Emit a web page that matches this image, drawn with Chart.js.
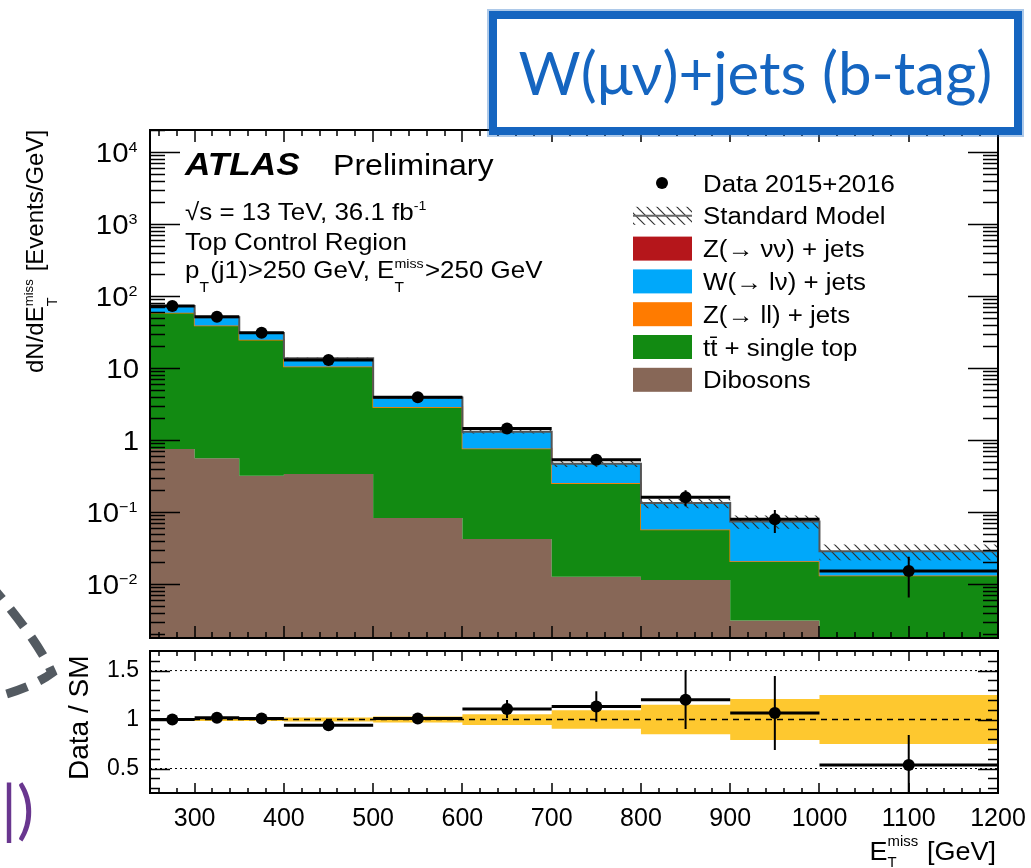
<!DOCTYPE html>
<html>
<head>
<meta charset="utf-8">
<title>W(μν)+jets (b-tag) - Top Control Region</title>
<script src="https://cdn.jsdelivr.net/npm/chart.js@4.4.1/dist/chart.umd.min.js"></script>
<style>
  html, body { margin: 0; padding: 0; background: #fff; }
  body { position: relative; width: 1031px; height: 868px; overflow: hidden; }
  canvas { position: absolute; left: 0; }
  #mainCanvas { top: 0; }
  #ratioCanvas { top: 640px; }
  .tag { position: absolute; left: 489px; top: 11px; width: 517px; height: 108px; border: 8px solid #1565c0;
         background: #fff; color: #1565c0; font-family: Lato, "Open Sans", sans-serif; font-size: 60px;
         line-height: 106px; text-align: center; white-space: nowrap;
         box-shadow: 0 0 0 2px rgba(21, 101, 192, 0.35); }
  .hook { position: absolute; left: 0; top: 540px; }
  .paren { position: absolute; left: 1px; top: 776px; color: #69368f; font-family: Lato, sans-serif;
           font-size: 64px; line-height: 1; }
</style>
</head>
<body>
<canvas id="mainCanvas" width="1031" height="645"></canvas>
<canvas id="ratioCanvas" width="1031" height="228"></canvas>
<div class="tag">W(μν)+jets (b-tag)</div>
<svg class="hook" width="80" height="180" viewBox="0 540 80 180">
  <path d="M -12 582 Q 38 640 52 673 Q 32 688 -8 698" fill="none" stroke="#535a61" stroke-width="9" stroke-dasharray="22 13"/>
</svg>
<div class="paren">|)</div>
<script>
Chart.defaults.font.family = '"Liberation Sans", Arial, Helvetica, sans-serif';
Chart.defaults.color = '#000';

// binning (GeV) and values, per GeV
var binEdges = [250, 300, 350, 400, 500, 600, 700, 800, 900, 1000, 1200];
var dataVals = [72.6, 51.6, 30.9, 12.9, 3.92, 1.44, 0.53, 0.16, 0.079, 0.0152];
var dataErr = [1.2, 1.0, 0.8, 0.36, 0.2, 0.12, 0.073, 0.04, 0.028, 0.0087];
var dibosons = [0.75, 0.556, 0.32, 0.337, 0.0825, 0.042, 0.0126, 0.0114, 0.0031, 0.0015];
var topSingle = [57.25, 38.1, 24.2, 10.06, 2.76, 0.71, 0.237, 0.045, 0.0173, 0.0114];
var zll = [0.6, 0.4, 0.25, 0.1, 0.03, 0.008, 0.003, 0.0008, 0.0003, 0.0002];
var wlnu = [13.9, 11.5, 5.79, 3.18, 1.0, 0.538, 0.214, 0.0755, 0.0532, 0.01525];
var znunu = [0.1, 0.07, 0.04, 0.02, 0.006, 0.002, 0.0008, 0.0003, 0.0001, 0.00005];
var smRelUnc = [0.015, 0.015, 0.015, 0.02, 0.03, 0.055, 0.095, 0.15, 0.21, 0.25];

var xTickVals = [300, 400, 500, 600, 700, 800, 900, 1000, 1100, 1200];
var yTickVals = [0.01, 0.1, 1, 10, 100, 1000, 10000];
var yTickLabels = [['10', '−2'], ['10', '−1'], ['1', ''], ['10', ''], ['10', '2'], ['10', '3'], ['10', '4']];
var ratioTickVals = [0.5, 1, 1.5];
var ratioTickLabels = ['0.5', '1', '1.5'];

var colors = {
  dib: '#876757', top: '#128a12', zll: '#ff7b00', wlnu: '#00a8fa', znunu: '#b5161b', band: '#fec82f'
};

var legendItems = [
  { label: 'Data 2015+2016', kind: 'dot' },
  { label: 'Standard Model', kind: 'hatch' },
  { label: 'Z(→ νν) + jets', color: colors.znunu },
  { label: 'W(→ lν) + jets', color: colors.wlnu },
  { label: 'Z(→ ll) + jets', color: colors.zll },
  { label: 'tt̄ + single top', color: colors.top },
  { label: 'Dibosons', color: colors.dib }
];

// stack sums
var components = [dibosons, topSingle, zll, wlnu, znunu];
var cum = [];
var running = dibosons.map(function () { return 0; });
components.forEach(function (c) {
  running = running.map(function (r, i) { return r + c[i]; });
  cum.push(running.slice());
});
var sm = cum[cum.length - 1];
var centers = dataVals.map(function (v, i) { return (binEdges[i] + binEdges[i + 1]) / 2; });
var ratioVals = dataVals.map(function (v, i) { return v / sm[i]; });
var ratioErr = dataErr.map(function (e, i) { return e / sm[i]; });

function steps(vals) {
  var pts = vals.map(function (v, i) { return { x: binEdges[i], y: v }; });
  pts.push({ x: binEdges[binEdges.length - 1], y: vals[vals.length - 1] });
  return pts;
}

function stepSet(label, vals, fill, bg, order, border, bw) {
  return {
    label: label, data: steps(vals), stepped: 'before', fill: fill, backgroundColor: bg,
    borderColor: border || 'rgba(0,0,0,0)', borderWidth: bw || 0, pointRadius: 0, order: order
  };
}

function xBars(ys) {
  var pts = [];
  ys.forEach(function (y, i) {
    pts.push({ x: binEdges[i], y: y }, { x: binEdges[i + 1], y: y }, { x: binEdges[i + 1], y: null });
  });
  return pts;
}

function yBars(ys, errs) {
  var pts = [];
  ys.forEach(function (y, i) {
    pts.push({ x: centers[i], y: y - errs[i] }, { x: centers[i], y: y + errs[i] }, { x: centers[i], y: null });
  });
  return pts;
}

function hatchPattern(ctx) {
  var c = document.createElement('canvas');
  c.width = 10; c.height = 10;
  var g = c.getContext('2d');
  g.strokeStyle = '#333';
  g.lineWidth = 1.2;
  g.beginPath();
  g.moveTo(0, 0); g.lineTo(10, 10);
  g.moveTo(-5, 5); g.lineTo(5, 15);
  g.moveTo(5, -5); g.lineTo(15, 5);
  g.stroke();
  return ctx.createPattern(c, 'repeat');
}

function drawRich(ctx, x, y, parts, size, o) {
  o = o || {};
  var fam = '"Liberation Sans", Arial, Helvetica, sans-serif';
  var w8 = o.weight ? o.weight + ' ' : '';
  function setFont(s) { ctx.font = w8 + s.toFixed(1) + 'px ' + fam; }
  function measure(p) {
    if (typeof p === 'string') { setFont(size); return ctx.measureText(p).width; }
    var w = 0;
    if (p.sup) { setFont(size * (p.supSize || 0.55)); w = Math.max(w, ctx.measureText(p.sup).width); }
    if (p.sub) { setFont(size * (p.subSize || 0.6)); w = Math.max(w, ctx.measureText(p.sub).width); }
    return w + size * 0.05;
  }
  var widths = parts.map(measure);
  var total = widths.reduce(function (a, b) { return a + b; }, 0);
  ctx.save();
  ctx.translate(x, y);
  if (o.rot) ctx.rotate(o.rot);
  ctx.scale(o.hs || 1, 1);
  ctx.fillStyle = o.color || '#000';
  ctx.textAlign = 'left';
  ctx.textBaseline = 'alphabetic';
  var cx = o.align === 'right' ? -total : (o.align === 'center' ? -total / 2 : 0);
  parts.forEach(function (p, i) {
    if (typeof p === 'string') {
      setFont(size);
      ctx.fillText(p, cx, 0);
    } else {
      if (p.sup) { setFont(size * (p.supSize || 0.55)); ctx.fillText(p.sup, cx, size * (p.supDy || -0.42)); }
      if (p.sub) { setFont(size * (p.subSize || 0.6)); ctx.fillText(p.sub, cx, size * (p.subDy || 0.6)); }
    }
    cx += widths[i];
  });
  ctx.restore();
}

// ROOT-like frame with inward ticks on all four sides
var rootFrame = {
  id: 'rootFrame',
  afterDatasetsDraw: function (chart, args, opts) {
    var ctx = chart.ctx, a = chart.chartArea, xs = chart.scales.x, ys = chart.scales.y;
    ctx.save();
    ctx.strokeStyle = '#000';
    ctx.lineWidth = 1.5;
    ctx.beginPath();
    function xTick(v, len) {
      var px = Math.round(xs.getPixelForValue(v));
      ctx.moveTo(px, a.bottom); ctx.lineTo(px, a.bottom - len);
      ctx.moveTo(px, a.top); ctx.lineTo(px, a.top + len);
    }
    function yTick(v, len) {
      var py = Math.round(ys.getPixelForValue(v)) + 0.5;
      if (py < a.top || py > a.bottom) return;
      ctx.moveTo(a.left, py); ctx.lineTo(a.left + len, py);
      ctx.moveTo(a.right, py); ctx.lineTo(a.right - len, py);
    }
    opts.xMajor.forEach(function (v) { xTick(v, opts.xLen[0]); });
    opts.xMinor.forEach(function (v) { xTick(v, opts.xLen[1]); });
    opts.yMajor.forEach(function (v) { yTick(v, opts.yLen[0]); });
    opts.yMinor.forEach(function (v) { yTick(v, opts.yLen[1]); });
    ctx.stroke();
    ctx.lineWidth = 2;
    ctx.strokeRect(a.left, a.top, a.right - a.left, a.bottom - a.top);
    ctx.restore();
  }
};

var xMinor = [];
for (var v = 260; v < 1200; v += 20) { if (v % 100 !== 0) xMinor.push(v); }
var yMinorLog = [];
for (var e = -3; e <= 4; e++) {
  for (var m = 2; m <= 9; m++) yMinorLog.push(m * Math.pow(10, e));
}
var ratioMinor = [];
for (var r = 3; r <= 16; r++) { if (r % 5 !== 0) ratioMinor.push(r / 10); }

var mainCtx = document.getElementById('mainCanvas').getContext('2d');
var hatch = hatchPattern(mainCtx);

var mainText = {
  id: 'mainText',
  afterDraw: function (chart) {
    var ctx = chart.ctx, ys = chart.scales.y;
    yTickVals.forEach(function (v, i) {
      var lab = yTickLabels[i];
      var parts = [lab[0]];
      if (lab[1]) parts.push({ sup: lab[1], supSize: 0.55, supDy: -0.36 });
      drawRich(ctx, 139, ys.getPixelForValue(v) + 10, parts, 28, { align: 'right', hs: 1.05 });
    });
    drawRich(ctx, 43, 373, ['dN/dE', { sub: 'T', sup: 'miss' }, ' [Events/GeV]'], 24, { rot: -Math.PI / 2 });

    drawRich(ctx, 185, 175, ['ATLAS'], 32, { weight: 'italic bold', hs: 1.1 });
    drawRich(ctx, 333, 175, ['Preliminary'], 30, { hs: 1.07 });
    drawRich(ctx, 185, 220, ['√s = 13 TeV, 36.1 fb', { sup: '-1' }], 24, { hs: 1.08 });
    drawRich(ctx, 185, 250, ['Top Control Region'], 24, { hs: 1.08 });
    drawRich(ctx, 185, 278, ['p', { sub: 'T' }, '(j1)>250 GeV, E', { sub: 'T', sup: 'miss' }, '>250 GeV'], 24, { hs: 1.08 });

    legendItems.forEach(function (item, i) {
      var cy = 183 + i * 32.8;
      ctx.save();
      if (item.kind === 'dot') {
        ctx.beginPath();
        ctx.arc(662, cy, 6, 0, 2 * Math.PI);
        ctx.fillStyle = '#000';
        ctx.fill();
      } else if (item.kind === 'hatch') {
        ctx.fillStyle = hatch;
        ctx.fillRect(633, cy - 9, 59, 18);
        ctx.strokeStyle = '#666';
        ctx.lineWidth = 2;
        ctx.beginPath();
        ctx.moveTo(633, cy); ctx.lineTo(692, cy);
        ctx.stroke();
      } else {
        ctx.fillStyle = item.color;
        ctx.fillRect(633, cy - 12, 59, 24);
      }
      ctx.restore();
      drawRich(ctx, 703, cy + 8.5, [item.label], 23.5, { hs: 1.1 });
    });
  }
};

var mainSets = [
  stepSet('Dibosons', cum[0], 'start', colors.dib, 20),
  stepSet('tt + single top', cum[1], '-1', colors.top, 19),
  stepSet('Z(ll) + jets', cum[2], '-1', colors.zll, 18, colors.zll, 1.5),
  stepSet('W(lv) + jets', cum[3], '-1', colors.wlnu, 17),
  stepSet('Z(vv) + jets', cum[4], '-1', colors.znunu, 16),
  stepSet('SM down', sm.map(function (s, i) { return s * (1 - smRelUnc[i]); }), false, 'rgba(0,0,0,0)', 15),
  stepSet('SM up', sm.map(function (s, i) { return s * (1 + smRelUnc[i]); }), '-1', hatch, 14),
  stepSet('Standard Model', sm, false, 'rgba(0,0,0,0)', 13, '#555', 2),
  { label: 'x err', data: xBars(dataVals), borderColor: '#000', borderWidth: 3, pointRadius: 0, fill: false, order: 3 },
  { label: 'y err', data: yBars(dataVals, dataErr), borderColor: '#000', borderWidth: 2, pointRadius: 0, fill: false, order: 2 },
  { label: 'Data 2015+2016', data: dataVals.map(function (v, i) { return { x: centers[i], y: v }; }), showLine: false,
    pointRadius: 6, pointBorderWidth: 0, pointBackgroundColor: '#000', order: 1 }
];

new Chart(mainCtx, {
  type: 'line',
  data: { datasets: mainSets },
  options: {
    animation: false,
    responsive: false,
    events: [],
    layout: { padding: { left: 150, right: 33, top: 130, bottom: 7 } },
    scales: {
      x: { type: 'linear', min: 250, max: 1200, display: false },
      y: { type: 'logarithmic', min: 0.001778, max: 20215, display: false }
    },
    plugins: {
      legend: { display: false },
      tooltip: { enabled: false },
      rootFrame: { xMajor: xTickVals, xMinor: xMinor, yMajor: yTickVals, yMinor: yMinorLog, xLen: [12, 6], yLen: [30, 15] }
    }
  },
  plugins: [rootFrame, mainText]
});

var ratioText = {
  id: 'ratioText',
  afterDraw: function (chart) {
    var ctx = chart.ctx;
    drawRich(ctx, 88, 140, ['Data / SM'], 28, { rot: -Math.PI / 2 });
    drawRich(ctx, 996, 220, ['E', { sub: 'T', sup: 'miss', subSize: 0.55, subDy: 0.26, supDy: -0.55 }, ' [GeV]'], 25,
      { align: 'right', hs: 1.08 });
  }
};

function flatLine(y) {
  return [{ x: binEdges[0], y: y }, { x: binEdges[binEdges.length - 1], y: y }];
}

var ratioSets = [
  stepSet('unc down', smRelUnc.map(function (u) { return 1 - u; }), false, 'rgba(0,0,0,0)', 10),
  stepSet('SM unc', smRelUnc.map(function (u) { return 1 + u; }), '-1', colors.band, 9),
  { label: '0.5', data: flatLine(0.5), borderColor: '#000', borderWidth: 1, borderDash: [2, 3], pointRadius: 0, fill: false, order: 6 },
  { label: '1.5', data: flatLine(1.5), borderColor: '#000', borderWidth: 1, borderDash: [2, 3], pointRadius: 0, fill: false, order: 6 },
  { label: '1', data: flatLine(1), borderColor: '#000', borderWidth: 1.5, borderDash: [6, 5], pointRadius: 0, fill: false, order: 5 },
  { label: 'x err', data: xBars(ratioVals), borderColor: '#000', borderWidth: 3, pointRadius: 0, fill: false, order: 3 },
  { label: 'y err', data: yBars(ratioVals, ratioErr), borderColor: '#000', borderWidth: 2, pointRadius: 0, fill: false, order: 2 },
  { label: 'Data / SM', data: ratioVals.map(function (v, i) { return { x: centers[i], y: v }; }), showLine: false,
    pointRadius: 6, pointBorderWidth: 0, pointBackgroundColor: '#000', order: 1 }
];

new Chart(document.getElementById('ratioCanvas'), {
  type: 'line',
  data: { datasets: ratioSets },
  options: {
    animation: false,
    responsive: false,
    events: [],
    layout: { padding: { left: 0, right: 33, top: 11, bottom: 0 } },
    scales: {
      x: {
        type: 'linear', min: 250, max: 1200,
        grid: { display: false, drawTicks: false }, border: { display: false },
        afterBuildTicks: function (s) { s.ticks = xTickVals.map(function (v) { return { value: v }; }); },
        afterFit: function (s) { s.height = 75; s.paddingLeft = 0; s.paddingRight = 0; },
        ticks: { font: { size: 25 }, color: '#000', padding: 11, maxRotation: 0, autoSkip: false,
                 callback: function (v) { return String(v); } }
      },
      y: {
        type: 'linear', min: 0.25, max: 1.7,
        grid: { display: false, drawTicks: false }, border: { display: false },
        afterBuildTicks: function (s) { s.ticks = ratioTickVals.map(function (v) { return { value: v }; }); },
        afterFit: function (s) { s.width = 150; s.paddingTop = 0; s.paddingBottom = 0; },
        ticks: { font: { size: 23 }, color: '#000', padding: 11,
                 callback: function (v) { return ratioTickLabels[ratioTickVals.indexOf(v)]; } }
      }
    },
    plugins: {
      legend: { display: false },
      tooltip: { enabled: false },
      rootFrame: { xMajor: xTickVals, xMinor: xMinor, yMajor: ratioTickVals, yMinor: ratioMinor, xLen: [10, 5], yLen: [20, 10] }
    }
  },
  plugins: [rootFrame, ratioText]
});
</script>
</body>
</html>
